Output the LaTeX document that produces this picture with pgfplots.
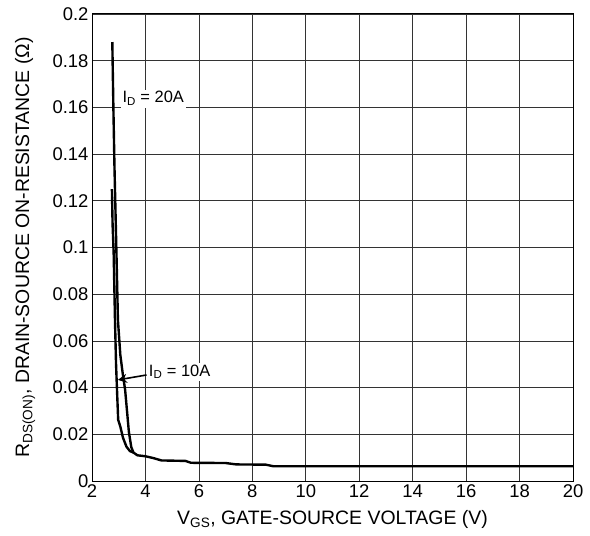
\documentclass[border=0pt]{standalone}
\usepackage{fontspec}
\setmainfont{Liberation Sans}
\usepackage{pgfplots}
\pgfplotsset{compat=1.18}
\usetikzlibrary{arrows.meta}
\begin{document}
\begin{tikzpicture}
\useasboundingbox (0,0) rectangle (590bp,536bp);
\begin{axis}[
  at={(92bp,55bp)}, anchor=south west,
  scale only axis, width=481bp, height=467bp,
  xmin=2, xmax=20, ymin=0, ymax=0.2,
  xtick={2,4,...,20},
  ytick={0,0.02,0.04,0.06,0.08,0.1,0.12,0.14,0.16,0.18,0.2},
  scaled y ticks=false,
  yticklabel style={/pgf/number format/fixed,/pgf/number format/precision=2},
  /pgf/number format/assume math mode=true,
  tick label style={font=\fontsize{18.5}{20}\selectfont},
  major tick length=0pt,
  grid=major,
  major grid style={black!80, line width=0.75pt},
  axis line style={black, line width=1pt},
  xlabel={V\textsubscript{GS}, GATE-SOURCE VOLTAGE (V)},
  ylabel={R\textsubscript{DS(ON)}, DRAIN-SOURCE ON-RESISTANCE (Ω)},
  label style={font=\fontsize{19.5}{21}\selectfont},
  xlabel style={at={(axis description cs:0.5,-0.083)}, anchor=center},
  ylabel style={at={(axis description cs:-0.139,0.5)}, anchor=center},
]
% I_D = 20A
\addplot[black, line width=2.4pt, line join=round] coordinates {
(2.76,0.188)(2.80,0.160)(2.84,0.135)(2.87,0.120)(2.92,0.095)(2.97,0.069)
(3.06,0.054)(3.15,0.046)(3.24,0.039)(3.31,0.030)(3.38,0.021)(3.47,0.0145)
(3.55,0.0122)(3.7,0.0110)(4.0,0.0106)(4.3,0.0098)(4.6,0.0088)(5.5,0.0086)
(5.7,0.0078)(7.0,0.0077)(7.4,0.0071)(8.5,0.0070)(8.8,0.0063)(20,0.0063)};
% I_D = 10A
\addplot[black, line width=2.4pt, line join=round] coordinates {
(2.745,0.125)(2.77,0.110)(2.81,0.098)(2.86,0.069)(2.90,0.050)(2.94,0.0377)
(2.98,0.0262)(3.06,0.0233)(3.16,0.0185)(3.29,0.0147)(3.42,0.0128)(3.55,0.0122)};
\node[fill=white, inner sep=2pt, font=\fontsize{16.5}{18}\selectfont] at (axis cs:4.29,0.1638) {I\textsubscript{D} = 20A};
\node[fill=white, inner sep=2pt, font=\fontsize{16.5}{18}\selectfont] at (axis cs:5.28,0.0467) {I\textsubscript{D} = 10A};
\draw[black, line width=1.6pt, -{Stealth[length=9pt,width=9pt]}] (axis cs:4.04,0.0454) -- (axis cs:2.97,0.0433);
\end{axis}
\end{tikzpicture}
\end{document}
